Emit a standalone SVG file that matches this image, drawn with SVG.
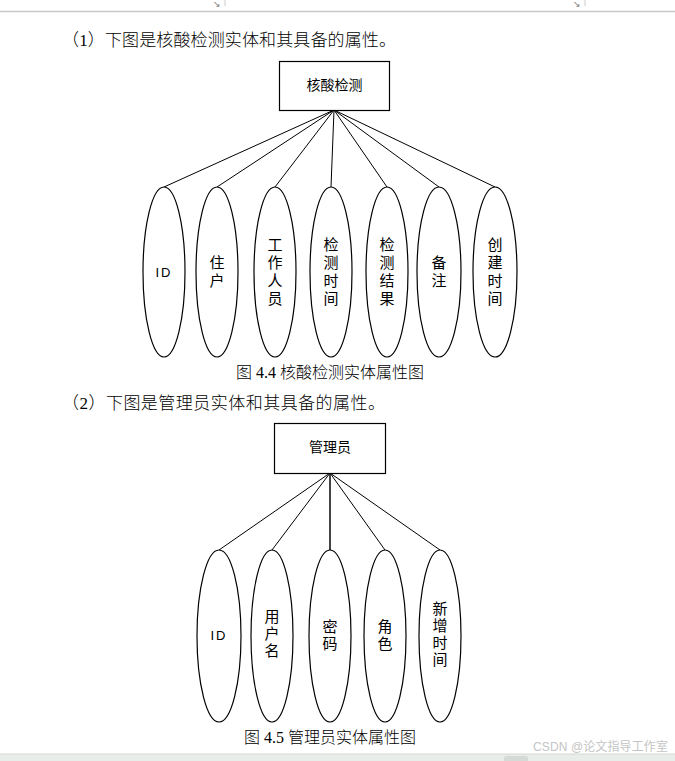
<svg xmlns="http://www.w3.org/2000/svg" width="675" height="761" viewBox="0 0 675 761">
<style>
.h{font-family:"Liberation Serif","Noto Sans CJK SC",serif;font-size:17px;font-weight:300;fill:#000}
.cap{font-family:"Liberation Serif","Noto Sans CJK SC",serif;font-size:16px;font-weight:300;fill:#000;text-anchor:middle}
.t{font-family:"Liberation Sans","Noto Sans CJK SC",sans-serif;font-size:14px;fill:#000;text-anchor:middle}
.v{font-family:"Liberation Sans","Noto Sans CJK SC",sans-serif;font-size:15px;fill:#000;text-anchor:middle}
.box{fill:#fff;stroke:#000;stroke-width:1.2}
.ell{fill:#fff;stroke:#000;stroke-width:1.2}
.ln{stroke:#000;stroke-width:1;fill:none}
.ui{font-family:"DejaVu Sans",sans-serif;font-size:9px;fill:#777}
</style>
<rect width="675" height="761" fill="#fff"/>
<g id="chrome-top">
<line x1="0" y1="11.5" x2="675" y2="11.5" stroke="#c8c8c8" stroke-width="1.5"/>
<line x1="225" y1="0" x2="225" y2="6" stroke="#ccc"/>
<line x1="585" y1="0" x2="585" y2="6" stroke="#ccc"/>
<text class="ui" x="213" y="7">↘</text>
<text class="ui" x="573" y="7">↘</text>
</g>
<text class="h" x="62" y="46" textLength="334">（1）下图是核酸检测实体和其具备的属性。</text>
<g id="connectors1">
<line class="ln" x1="334" y1="110" x2="164" y2="187"/>
<line class="ln" x1="334" y1="110" x2="217" y2="187"/>
<line class="ln" x1="334" y1="110" x2="275" y2="187"/>
<line class="ln" x1="334" y1="110" x2="331" y2="187"/>
<line class="ln" x1="334" y1="110" x2="387" y2="187"/>
<line class="ln" x1="334" y1="110" x2="439" y2="187"/>
<line class="ln" x1="334" y1="110" x2="495" y2="187"/>
</g>
<g id="node-hesuan">
<rect class="box" x="279.5" y="61.5" width="110" height="49"/>
<text class="t" x="334.5" y="90">核酸检测</text>
</g>
<g id="attr1-id">
<ellipse class="ell" cx="164" cy="272" rx="21" ry="85"/>
<text class="v" x="164" y="277" style="font-size:13px;letter-spacing:2px">ID</text>
</g>
<g id="attr1-zhuhu">
<ellipse class="ell" cx="217" cy="272" rx="21" ry="85"/>
<text class="v" x="217" y="268">住</text><text class="v" x="217" y="286">户</text>
</g>
<g id="attr1-gongzuorenyuan">
<ellipse class="ell" cx="275" cy="272" rx="21" ry="85"/>
<text class="v" x="275" y="250">工</text><text class="v" x="275" y="268">作</text><text class="v" x="275" y="286">人</text><text class="v" x="275" y="304">员</text>
</g>
<g id="attr1-jianceshijian">
<ellipse class="ell" cx="331" cy="272" rx="21" ry="85"/>
<text class="v" x="331" y="250">检</text><text class="v" x="331" y="268">测</text><text class="v" x="331" y="286">时</text><text class="v" x="331" y="304">间</text>
</g>
<g id="attr1-jiancejieguo">
<ellipse class="ell" cx="387" cy="272" rx="21" ry="85"/>
<text class="v" x="387" y="250">检</text><text class="v" x="387" y="268">测</text><text class="v" x="387" y="286">结</text><text class="v" x="387" y="304">果</text>
</g>
<g id="attr1-beizhu">
<ellipse class="ell" cx="439" cy="272" rx="22" ry="85"/>
<text class="v" x="439" y="268">备</text><text class="v" x="439" y="286">注</text>
</g>
<g id="attr1-chuangjianshijian">
<ellipse class="ell" cx="495" cy="272" rx="22" ry="85"/>
<text class="v" x="495" y="250">创</text><text class="v" x="495" y="268">建</text><text class="v" x="495" y="286">时</text><text class="v" x="495" y="304">间</text>
</g>
<text class="cap" x="330" y="378">图 4.4 核酸检测实体属性图</text>
<text class="h" x="62" y="409" textLength="323">（2）下图是管理员实体和其具备的属性。</text>
<g id="connectors2">
<line class="ln" x1="330" y1="473" x2="219" y2="550"/>
<line class="ln" x1="330" y1="473" x2="272" y2="550"/>
<line class="ln" x1="330" y1="473" x2="330" y2="550" style="stroke:#444;stroke-width:2"/>
<line class="ln" x1="330" y1="473" x2="385" y2="550"/>
<line class="ln" x1="330" y1="473" x2="440" y2="550"/>
</g>
<g id="node-guanliyuan">
<rect class="box" x="274.5" y="423.5" width="111" height="50"/>
<text class="t" x="330" y="452">管理员</text>
</g>
<g id="attr2-id">
<ellipse class="ell" cx="219" cy="636" rx="22" ry="86"/>
<text class="v" x="219" y="640" style="font-size:13px;letter-spacing:2px">ID</text>
</g>
<g id="attr2-yonghuming">
<ellipse class="ell" cx="272" cy="636" rx="21" ry="86"/>
<text class="v" x="272" y="622">用</text><text class="v" x="272" y="639">户</text><text class="v" x="272" y="656">名</text>
</g>
<g id="attr2-mima">
<ellipse class="ell" cx="330" cy="636" rx="21" ry="86"/>
<text class="v" x="330" y="632">密</text><text class="v" x="330" y="649">码</text>
</g>
<g id="attr2-juese">
<ellipse class="ell" cx="385" cy="636" rx="21" ry="86"/>
<text class="v" x="385" y="632">角</text><text class="v" x="385" y="649">色</text>
</g>
<g id="attr2-xinzengshijian">
<ellipse class="ell" cx="440" cy="636" rx="21" ry="86"/>
<text class="v" x="440" y="614">新</text><text class="v" x="440" y="631">增</text><text class="v" x="440" y="648">时</text><text class="v" x="440" y="665">间</text>
</g>
<text class="cap" x="330" y="743">图 4.5 管理员实体属性图</text>
<text x="533" y="751" textLength="135" style="font-family:'Liberation Sans','Noto Sans CJK SC',sans-serif;font-size:12px;fill:#c4c4c4">CSDN @论文指导工作室</text>
<g id="chrome-bottom">
<rect x="0" y="754" width="675" height="7" fill="#e9ede9"/>
<line x1="0" y1="754" x2="675" y2="754" stroke="#d4d8d4"/>
<rect x="504" y="756" width="24" height="8" rx="3" fill="#d6dad6"/>
</g>
</svg>
